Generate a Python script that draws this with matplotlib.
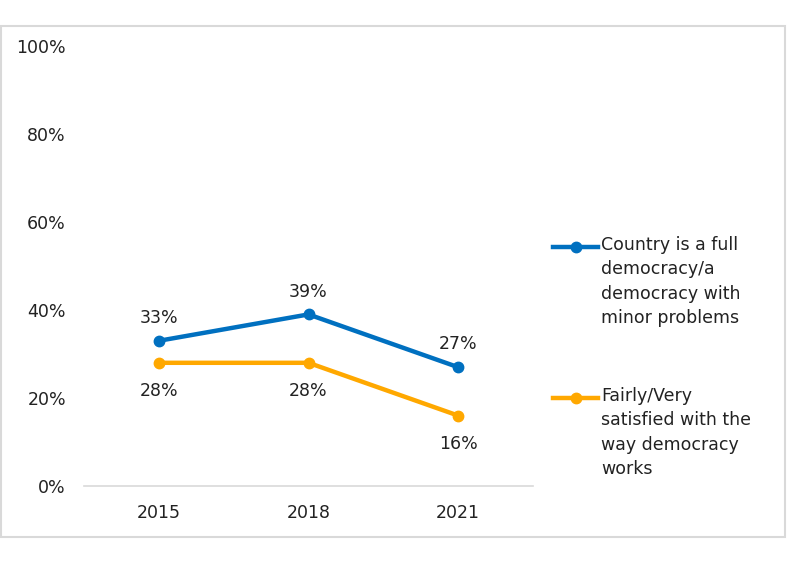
import matplotlib.pyplot as plt
from matplotlib.lines import Line2D
from matplotlib.patches import Rectangle

years = ['2015', '2018', '2021']
full_democracy = [33, 39, 27]
satisfied = [28, 28, 16]
labels = ['Country is a full\ndemocracy/a\ndemocracy with\nminor problems',
          'Fairly/Very\nsatisfied with the\nway democracy\nworks']
blue = '#0070C0'
orange = '#FFA800'

plt.rcParams['font.family'] = ['DejaVu Sans']
fig = plt.figure(figsize=(7.87, 5.64), dpi=100)
ax = fig.add_axes([0.1067, 0.1383, 0.5706, 0.7801])

x = range(len(years))
ax.plot(x, full_democracy, color=blue, lw=3.2, marker='o', ms=7.5, solid_capstyle='round')
ax.plot(x, satisfied, color=orange, lw=3.2, marker='o', ms=7.5, solid_capstyle='round')

for i, v in enumerate(full_democracy):
    ax.annotate(f'{v}%', (i, v), xytext=(0, 10), textcoords='offset points',
                ha='center', va='bottom', fontsize=12.5, color='#222222')
for i, v in enumerate(satisfied):
    ax.annotate(f'{v}%', (i, v), xytext=(0, -14), textcoords='offset points',
                ha='center', va='top', fontsize=12.5, color='#222222')

ax.set_xlim(-0.5, 2.5)
ax.set_ylim(0, 100)
ax.set_xticks(list(x))
ax.set_xticklabels(years)
ax.set_yticks(range(0, 101, 20))
ax.set_yticklabels([f'{t}%' for t in range(0, 101, 20)])
ax.tick_params(length=0, labelsize=12.5, colors='#222222')
ax.tick_params(axis='x', pad=13)
ax.tick_params(axis='y', pad=13)
for s in ['top', 'right', 'left']:
    ax.spines[s].set_visible(False)
ax.spines['bottom'].set_color('#D9D9D9')
ax.spines['bottom'].set_linewidth(1.2)

# legend with the handle aligned to the first text line
for (lab, col, ytop) in [(labels[0], blue, 247), (labels[1], orange, 398)]:
    yf = 1 - ytop / 564
    fig.add_artist(Line2D([553 / 787, 598 / 787], [yf, yf], color=col, lw=3.2,
                          transform=fig.transFigure))
    fig.add_artist(Line2D([575.5 / 787], [yf], color=col, marker='o', ms=7.5,
                          transform=fig.transFigure))
    fig.text(601 / 787, yf + 11 / 564, lab, ha='left', va='top', fontsize=12.5,
             color='#222222', linespacing=1.45)

fig.add_artist(Rectangle((1 / 787, 1 - 537 / 564), 784 / 787, 511 / 564,
                         transform=fig.transFigure, fill=False,
                         edgecolor='#D9D9D9', lw=1.5))

fig.savefig('out.png', dpi=100)
